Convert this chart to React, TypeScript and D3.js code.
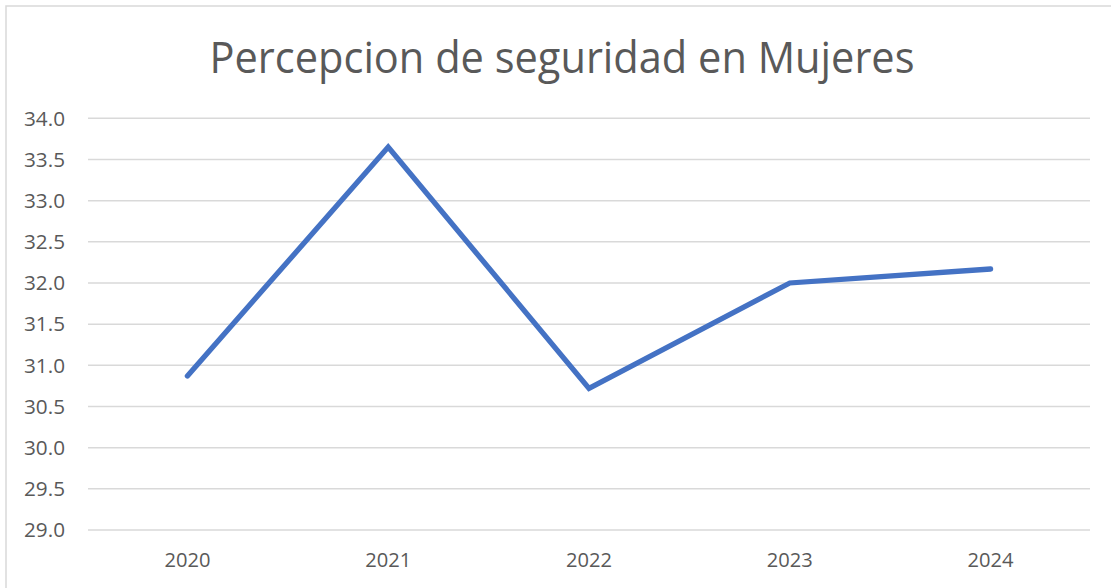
import React from "react";
import * as d3 from "d3";

const years = ["2020", "2021", "2022", "2023", "2024"];
const values = [30.87, 33.65, 30.72, 32.0, 32.17];
const yTicks = [29.0, 29.5, 30.0, 30.5, 31.0, 31.5, 32.0, 32.5, 33.0, 33.5, 34.0];
const title = "Percepcion de seguridad en Mujeres";

const W = 1111;
const H = 588;
const left = 87;
const right = 1091;
const top = 118.3;
const bottom = 530;

export default function App() {
  const x = d3.scaleBand<string>().domain(years).range([left, right]);
  const y = d3.scaleLinear().domain([29, 34]).range([bottom, top]);
  const line = d3
    .line<number>()
    .x((_, i) => (x(years[i]) as number) + x.bandwidth() / 2)
    .y((d) => y(d));
  const font = "'Open Sans', 'Liberation Sans', sans-serif";
  return (
    <div style={{ position: "absolute", left: 0, top: 0 }}>
      <svg width={W} height={H} style={{ display: "block" }}>
        <rect x={0} y={0} width={W} height={H} fill="#fff" />
        <rect x={6} y={6} width={W + 10} height={H + 10} fill="none" stroke="#d9d9d9" strokeWidth={1.5} />
        <text
          x={562}
          y={73}
          textAnchor="middle"
          fontFamily={font}
          fontSize={44}
          fill="#595959"
          textLength={705}
          lengthAdjust="spacingAndGlyphs"
        >
          {title}
        </text>
        {yTicks.map((t) => (
          <g key={t}>
            <line x1={left + 1} x2={right - 1} y1={y(t)} y2={y(t)} stroke="#d9d9d9" strokeWidth={1.5} />
            <text
              x={65}
              y={y(t)}
              dy="0.36em"
              textAnchor="end"
              fontFamily={font}
              fontSize={20}
              fill="#595959"
              textLength={41}
              lengthAdjust="spacingAndGlyphs"
            >
              {t.toFixed(1)}
            </text>
          </g>
        ))}
        {years.map((yr) => (
          <text
            key={yr}
            x={(x(yr) as number) + x.bandwidth() / 2}
            y={567}
            textAnchor="middle"
            fontFamily={font}
            fontSize={20}
            fill="#595959"
            textLength={46}
            lengthAdjust="spacingAndGlyphs"
          >
            {yr}
          </text>
        ))}
        <path
          d={line(values) || ""}
          fill="none"
          stroke="#4472c4"
          strokeWidth={5.3}
          strokeLinecap="round"
          strokeLinejoin="miter"
        />
      </svg>
    </div>
  );
}
